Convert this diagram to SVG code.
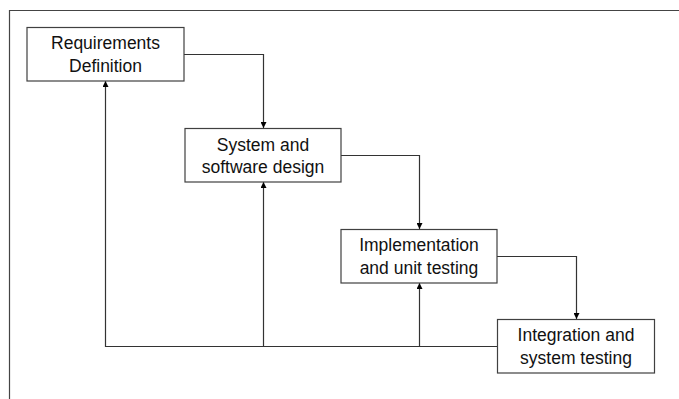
<svg xmlns="http://www.w3.org/2000/svg" width="679" height="399" viewBox="0 0 679 399">
<defs>
<marker id="arr" markerWidth="6" markerHeight="6" refX="6" refY="3" orient="auto" markerUnits="userSpaceOnUse">
<path d="M0,0 L6,3 L0,6 Z" fill="#000"/>
</marker>
<style>
.box{fill:#fff;stroke:#404040;stroke-width:1.2}
.lbl{font-family:"Liberation Sans",Arial,sans-serif;font-size:17.5px;fill:#111;text-anchor:middle}
.con{fill:none;stroke:#333;stroke-width:1.2}
.frame{fill:none;stroke:#444;stroke-width:1.2}
</style>
</defs>
<rect width="679" height="399" fill="#fff"/>
<path class="frame" d="M9.5,399 V10.5 H679"/>
<g id="connectors">
<path class="con" d="M184,54.5 H263.5 V128" marker-end="url(#arr)"/>
<path class="con" d="M341,155.5 H419.5 V229" marker-end="url(#arr)"/>
<path class="con" d="M497,256.5 H576.5 V319" marker-end="url(#arr)"/>
<path class="con" d="M497,346.5 H105.5 V81" marker-end="url(#arr)"/>
<path class="con" d="M263.5,346.5 V182" marker-end="url(#arr)"/>
<path class="con" d="M419.5,346.5 V283" marker-end="url(#arr)"/>
</g>
<g id="req">
<rect class="box" x="27" y="27.5" width="157" height="53.5"/>
<text class="lbl" x="105.5" y="49">Requirements</text>
<text class="lbl" x="105.5" y="71.5">Definition</text>
</g>
<g id="sys">
<rect class="box" x="185" y="128.5" width="156" height="53.5"/>
<text class="lbl" x="263" y="150.5">System and</text>
<text class="lbl" x="263" y="172.5">software design</text>
</g>
<g id="impl">
<rect class="box" x="341" y="229.5" width="156" height="53.5"/>
<text class="lbl" x="419" y="251">Implementation</text>
<text class="lbl" x="419" y="273.5">and unit testing</text>
</g>
<g id="integ">
<rect class="box" x="497.5" y="319.5" width="157" height="53.5"/>
<text class="lbl" x="576" y="341">Integration and</text>
<text class="lbl" x="576" y="363.5">system testing</text>
</g>
</svg>
